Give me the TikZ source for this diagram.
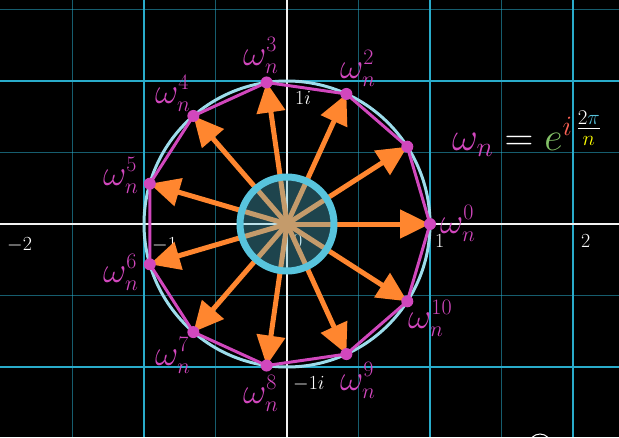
\RequirePackage{fix-cm}
\documentclass[tikz,border=0pt]{standalone}
\usetikzlibrary{arrows.meta,calc}
\DeclareMathSizes{36}{36}{22}{16}
\DeclareMathSizes{40}{40}{28}{21}
\DeclareMathSizes{20}{20}{14}{10}
\definecolor{gridc}{HTML}{29ABCA}
\definecolor{pinkc}{HTML}{D147BD}
\definecolor{bluec}{HTML}{58C4DD}
\definecolor{ucirc}{HTML}{9CDCEB}
\definecolor{orangec}{HTML}{FF862F}
\definecolor{greenc}{HTML}{83C167}
\definecolor{redc}{HTML}{FC6255}
\definecolor{yellowc}{HTML}{FFFF00}
\tikzset{
  dimgrid/.style={gridc, line width=1.2pt, opacity=0.55},
  maingrid/.style={gridc, line width=2pt},
  axisline/.style={white!90!gray, line width=2pt},
  axislabel/.style={white, inner sep=0pt, anchor=base west, font=\fontsize{20}{24}\selectfont},
  rootlabel/.style={pinkc, inner sep=0pt, anchor=base west, font=\fontsize{36}{43}\selectfont},
  rootarrow/.style={orangec, line width=5pt, -{Triangle[length=30pt,width=28pt]}},
  rootdot/.style={pinkc},
}
\begin{document}
\begin{tikzpicture}[x=1pt,y=1pt]
\useasboundingbox (0,0) rectangle (619,-437);
\clip (0,0) rectangle (619,-437);
\fill[black] (0,0) rectangle (619,-437);
% grid
\foreach \x in {72.5,215.5,358.5,501.5} \draw[dimgrid] (\x,0) -- (\x,-437);
\foreach \y in {9.5,152.5,295.5} \draw[dimgrid] (0,-\y) -- (619,-\y);
\foreach \x in {144,430,573} \draw[maingrid] (\x,0) -- (\x,-437);
\foreach \y in {81,367} \draw[maingrid] (0,-\y) -- (619,-\y);
\draw[axisline] (0,-224) -- (619,-224);
\draw[axisline] (287,0) -- (287,-437);
% axis labels
\node[axislabel] (lm2) at (7,-250) {$-2$};
\node[axislabel] (lm1) at (152,-250) {$-1$};
\node[axislabel] (l0) at (293,-247) {$0$};
\node[axislabel] (l1) at (435,-247) {$1$};
\node[axislabel] (l2) at (581,-247) {$2$};
\node[axislabel] (li) at (295,-104) {$1i$};
\node[axislabel] (lmi) at (293,-389) {$-1i$};
% roots
\coordinate (O) at (287,-224);
\foreach \k in {0,...,10} \coordinate (p\k) at ($(O)+({143*cos(360*\k/11)},{143*sin(360*\k/11)})$);
\draw[ucirc, line width=3pt] (O) circle (143);
\draw[pinkc, line width=3pt] (p0) -- (p1) -- (p2) -- (p3) -- (p4) -- (p5) -- (p6) -- (p7) -- (p8) -- (p9) -- (p10) -- cycle;
\foreach \k in {0,...,10} \draw[rootarrow] (O) -- (p\k);
\draw[bluec, line width=7pt, fill=bluec, fill opacity=0.35] (O) circle (47);
\foreach \k in {0,...,10} \fill[rootdot] (p\k) circle (6);
% labels
\node[rootlabel] (w0) at (440,-233) {$\omega_n^{0}$};
\node[rootlabel] (w2) at (340,-78) {$\omega_n^{2}$};
\node[rootlabel] (w3) at (243,-65) {$\omega_n^{3}$};
\node[rootlabel] (w4) at (155,-103) {$\omega_n^{4}$};
\node[rootlabel] (w5) at (103,-185) {$\omega_n^{5}$};
\node[rootlabel] (w6) at (103,-282) {$\omega_n^{6}$};
\node[rootlabel] (w7) at (155,-365) {$\omega_n^{7}$};
\node[rootlabel] (w8) at (243,-403) {$\omega_n^{8}$};
\node[rootlabel] (w9) at (340,-390) {$\omega_n^{9}$};
\node[rootlabel] (w10) at (408,-328) {$\omega_n^{10}$};
% formula
\node[inner sep=0pt, anchor=base west, font=\fontsize{40}{48}\selectfont] (formula) at (452,-150)
  {$\color{pinkc}\omega_n \mathrel{\color{white}=} \color{greenc}e^{\color{redc}i\,\color{white}\frac{2\color{bluec}\pi}{\color{yellowc}n}}$};
% partial circle at bottom edge
\draw[white, line width=1pt] (540,-445) circle (11);
\end{tikzpicture}
\end{document}
